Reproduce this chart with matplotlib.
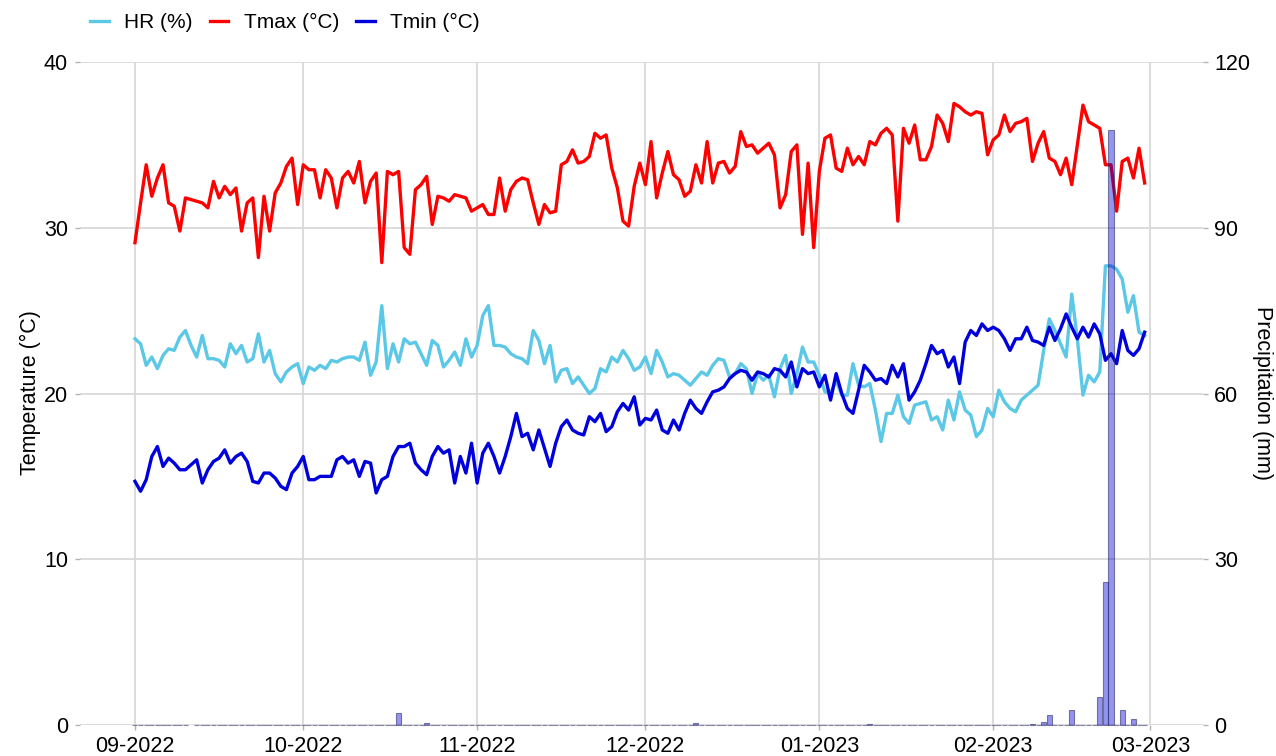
import matplotlib
matplotlib.use("Agg")
import matplotlib.pyplot as plt
import matplotlib.dates as mdates
import numpy as np
import pandas as pd

plt.rcParams['font.family'] = ['Liberation Sans', 'DejaVu Sans']

# ---------------- data ----------------
start_date = "2022-09-01"
end_date = "2023-02-28"

tmax = [
    29.1, 31.5, 33.8, 31.9, 33.0, 33.8, 31.5, 31.3, 29.8, 31.8,
    31.7, 31.6, 31.5, 31.2, 32.8, 31.8, 32.5, 32.0, 32.4, 29.8,
    31.5, 31.8, 28.2, 31.9, 29.8, 32.1, 32.7, 33.7, 34.2, 31.4,
    33.8, 33.5, 33.5, 31.8, 33.5, 33.0, 31.2, 33.0, 33.4, 32.7,
    34.0, 31.5, 32.8, 33.3, 27.9, 33.4, 33.2, 33.4, 28.8, 28.4,
    32.3, 32.6, 33.1, 30.2, 31.9, 31.8, 31.6, 32.0, 31.9, 31.8,
    31.0, 31.2, 31.4, 30.8, 30.8, 33.0, 31.0, 32.3, 32.8, 33.0,
    32.9, 31.5, 30.2, 31.4, 30.9, 31.0, 33.8, 34.0, 34.7, 33.9,
    34.0, 34.3, 35.7, 35.4, 35.6, 33.6, 32.4, 30.4, 30.1, 32.5,
    33.9, 32.6, 35.2, 31.8, 33.3, 34.6, 33.2, 32.9, 31.9, 32.2,
    33.8, 32.7, 35.2, 32.7, 33.9, 34.0, 33.3, 33.7, 35.8, 34.9,
    35.0, 34.5, 34.8, 35.1, 34.4, 31.2, 32.0, 34.6, 35.0, 29.6,
    33.9, 28.8, 33.4, 35.4, 35.6, 33.6, 33.4, 34.8, 33.8, 34.3,
    33.8, 35.2, 35.0, 35.7, 36.0, 35.6, 30.4, 36.0, 35.1, 36.2,
    34.1, 34.1, 34.9, 36.8, 36.3, 35.2, 37.5, 37.3, 37.0, 36.8,
    37.0, 36.9, 34.4, 35.3, 35.6, 36.8, 35.8, 36.3, 36.4, 36.6,
    34.0, 35.1, 35.8, 34.2, 34.0, 33.2, 34.2, 32.6, 35.0, 37.4,
    36.4, 36.2, 36.0, 33.8, 33.8, 31.0, 34.0, 34.2, 33.0, 34.8,
    32.7,
]

tmin = [
    14.7, 14.1, 14.8, 16.2, 16.8, 15.6, 16.1, 15.8, 15.4, 15.4,
    15.7, 16.0, 14.6, 15.4, 15.9, 16.1, 16.6, 15.8, 16.2, 16.4,
    15.9, 14.7, 14.6, 15.2, 15.2, 14.9, 14.4, 14.2, 15.2, 15.6,
    16.2, 14.8, 14.8, 15.0, 15.0, 15.0, 16.0, 16.2, 15.8, 16.0,
    15.0, 15.9, 15.8, 14.0, 14.8, 15.0, 16.2, 16.8, 16.8, 17.0,
    15.8, 15.4, 15.1, 16.2, 16.8, 16.4, 16.6, 14.6, 16.2, 15.2,
    17.0, 14.6, 16.4, 17.0, 16.2, 15.2, 16.2, 17.4, 18.8, 17.4,
    17.6, 16.6, 17.8, 16.7, 15.6, 17.0, 18.0, 18.4, 17.8, 17.6,
    17.5, 18.6, 18.3, 18.8, 17.7, 18.0, 18.9, 19.4, 19.0, 19.8,
    18.1, 18.5, 18.4, 19.0, 17.8, 17.6, 18.4, 17.8, 18.8, 19.6,
    19.1, 18.8, 19.5, 20.1, 20.2, 20.4, 20.9, 21.2, 21.4, 21.3,
    20.8, 21.3, 21.2, 21.0, 21.5, 21.4, 21.0, 21.9, 20.4, 21.5,
    21.2, 21.3, 20.4, 21.1, 19.6, 21.2, 20.0, 19.1, 18.8, 20.2,
    21.7, 21.3, 20.8, 20.9, 20.6, 21.7, 21.0, 21.8, 19.6, 20.1,
    20.8, 21.8, 22.9, 22.4, 22.6, 21.6, 22.2, 20.6, 23.1, 23.8,
    23.5, 24.2, 23.8, 24.0, 23.8, 23.3, 22.6, 23.3, 23.3, 24.0,
    23.2, 23.1, 22.9, 24.0, 23.2, 23.9, 24.8, 24.0, 23.3, 24.0,
    23.4, 24.2, 23.6, 22.0, 22.4, 21.8, 23.8, 22.6, 22.3, 22.7,
    23.7,
]

hr = [
    23.3, 23.0, 21.7, 22.2, 21.5, 22.3, 22.7, 22.6, 23.4, 23.8,
    22.9, 22.2, 23.5, 22.1, 22.1, 22.0, 21.6, 23.0, 22.4, 22.9,
    21.9, 22.1, 23.6, 21.9, 22.6, 21.2, 20.7, 21.3, 21.6, 21.8,
    20.6, 21.6, 21.4, 21.7, 21.5, 22.0, 21.9, 22.1, 22.2, 22.2,
    22.0, 23.1, 21.1, 21.9, 25.3, 21.5, 23.0, 21.9, 23.3, 23.0,
    23.1, 22.4, 21.7, 23.2, 22.9, 21.6, 22.0, 22.5, 21.7, 23.3,
    22.2, 22.9, 24.7, 25.3, 22.9, 22.9, 22.8, 22.4, 22.2, 22.1,
    21.8, 23.8, 23.2, 21.8, 22.9, 20.7, 21.4, 21.5, 20.6, 21.0,
    20.5, 20.0, 20.3, 21.5, 21.3, 22.2, 21.9, 22.6, 22.1, 21.4,
    21.6, 22.2, 21.2, 22.6, 21.9, 21.0, 21.2, 21.1, 20.8, 20.5,
    20.9, 21.3, 21.1, 21.7, 22.1, 22.0, 21.0, 21.2, 21.8, 21.5,
    20.0, 21.2, 20.8, 21.1, 19.8, 21.5, 22.3, 20.0, 21.2, 22.8,
    21.9, 21.9, 21.1, 20.1, 20.0, 20.8, 19.9, 19.9, 21.8, 20.5,
    20.4, 20.6, 19.0, 17.1, 18.8, 18.8, 19.9, 18.6, 18.2, 19.3,
    19.4, 19.5, 18.4, 18.6, 17.8, 19.6, 18.4, 20.1, 19.0, 18.7,
    17.4, 17.8, 19.1, 18.6, 20.2, 19.5, 19.1, 18.9, 19.6, 19.9,
    20.2, 20.5, 22.6, 24.5, 23.8, 23.0, 22.2, 26.0, 23.3, 19.9,
    21.1, 20.7, 21.3, 27.7, 27.7, 27.5, 26.9, 24.9, 25.9, 23.7,
    23.5,
]

precip = [
    0, 0, 0, 0, 0, 0, 0, 0, 0, 0,
    np.nan, 0, 0, 0, 0, 0, 0, 0, 0, 0,
    0, 0, 0, 0, 0, 0, 0, 0, 0, 0,
    0, 0, 0, 0, 0, 0, 0, 0, 0, 0,
    0, 0, 0, 0, 0, 0, 0, 2.1, 0, 0,
    0, 0, 0.3, 0, 0, 0, 0, 0, 0, 0,
    0, 0, 0, 0, 0, 0, 0, 0, 0, 0,
    0, 0, 0, 0, 0, 0, 0, 0, 0, 0,
    0, 0, 0, 0, 0, 0, 0, 0, 0, 0,
    0, 0, 0, 0, 0, 0, 0, 0, 0, 0,
    0.4, 0, 0, 0, 0, 0, 0, 0, 0, 0,
    0, 0, 0, 0, 0, 0, 0, 0, 0, 0,
    0, 0, 0, 0, 0, 0, 0, 0, 0, 0,
    0, 0.2, 0, 0, 0, 0, 0, 0, 0, 0,
    0, 0, 0, 0, 0, 0, 0, 0, 0, 0,
    0, 0, 0, 0, 0, 0, 0, 0, 0, 0,
    0.2, 0, 0.5, 1.8, 0, 0, 0, 2.7, 0, 0,
    0, 0, 5.0, 25.9, 107.7, 0, 2.8, 0, 1.1, 0,
    0,
]

month_ticks = ["2022-09-01", "2022-10-01", "2022-11-01", "2022-12-01",
               "2023-01-01", "2023-02-01", "2023-03-01"]
temp_ticks = [0, 10, 20, 30, 40]
precip_ticks = [0, 30, 60, 90, 120]

legend_labels = ["HR (%)", "Tmax (°C)", "Tmin (°C)"]

# ---------------- plot ----------------
dates = pd.date_range(start_date, end_date, freq="D")

W, H = 1276, 756
fig = plt.figure(figsize=(W / 100, H / 100), dpi=100)
left, right, top, bottom = 80, 1203, 62, 725
ax = fig.add_axes([left / W, 1 - bottom / H, (right - left) / W, (bottom - top) / H])
ax2 = ax.twinx()

grid_c = "#d9d9d9"
tick_c = "#b3b3b3"

c_hr = "#5AC8E6"
c_tmax = "#FF0000"
c_tmin = "#0000DD"

l_hr, = ax.plot(dates, hr, color=c_hr, lw=2.4, label=legend_labels[0], zorder=3)
l_tmax, = ax.plot(dates, tmax, color=c_tmax, lw=2.4, label=legend_labels[1], zorder=3)
l_tmin, = ax.plot(dates, tmin, color=c_tmin, lw=2.4, label=legend_labels[2], zorder=3)

bars = ax2.bar(dates, precip, width=0.9, facecolor=(0.0, 0.0, 0.87, 0.42),
               edgecolor=(0.2, 0.2, 0.4, 0.6), linewidth=0.8, zorder=2)
for b in bars:
    b.set_clip_on(False)

x0 = pd.Timestamp(start_date)
ax.set_xlim(x0 - pd.Timedelta(days=9.8), x0 + pd.Timedelta(days=190.4))
ax.set_ylim(0, 40)
ax2.set_ylim(0, 120)

ax.set_yticks(temp_ticks)
ax2.set_yticks(precip_ticks)
ax.set_xticks(pd.to_datetime(month_ticks))
ax.xaxis.set_major_formatter(mdates.DateFormatter("%m-%Y"))

ax.grid(True, color=grid_c, lw=1.3, zorder=0)
ax.set_axisbelow(True)
ax2.grid(False)

for a in (ax, ax2):
    for s in a.spines.values():
        s.set_visible(False)
    a.tick_params(colors=tick_c, labelcolor="black", labelsize=15.5, length=3.6, width=1)
ax.tick_params(axis="y", pad=5)
ax.tick_params(axis="x", pad=4)
ax2.tick_params(axis="y", pad=4.5)

fig.text(30 / W, 1 - 393 / H, "Temperature (°C)", rotation=90, ha="center", va="center", fontsize=15.5)
fig.text(1262 / W, 1 - 393 / H, "Precipitation (mm)", rotation=270, ha="center", va="center", fontsize=15.5)

fig.legend(handles=[l_hr, l_tmax, l_tmin], labels=legend_labels, loc="upper left",
           bbox_to_anchor=(90 / W, 1 - 13 / H), ncol=3, frameon=False, fontsize=15,
           handlelength=0.9, handletextpad=0.75, columnspacing=0.8,
           borderaxespad=0, borderpad=0)

fig.savefig("out.png", dpi=100)
